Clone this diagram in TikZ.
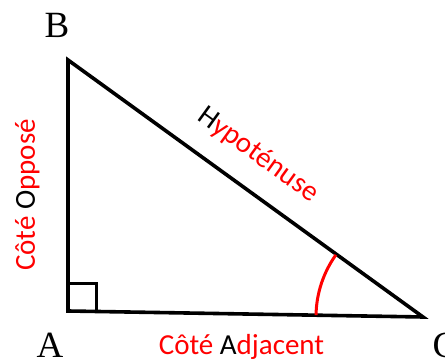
\documentclass[tikz,border=0pt]{standalone}
\usepackage{fontspec}
\setmainfont{Liberation Serif}
\newfontfamily\carl{Carlito}
\begin{document}
\begin{tikzpicture}[x=1pt,y=1pt,
  edge/.style={line width=3.6pt,line join=miter},
  vlabel/.style={font=\fontsize{37}{40}\selectfont,inner sep=0pt},
  side/.style={font=\carl\fontsize{29}{32}\selectfont,text=red,inner sep=0pt}]
\useasboundingbox (0,0) rectangle (445,361);
\coordinate (A) at (68,50);
\coordinate (B) at (68,301);
\coordinate (C) at (423,44);
\draw[edge] (B) -- (A) -- (C) -- cycle;
\draw[line width=3pt] (68,77) -| (96,50);
\draw[red,line width=3pt] (C) ++(179:107pt) arc[start angle=179,end angle=144.5,radius=107pt];
\node[vlabel] (lB) at (57,336) {B};
\node[vlabel] (lA) at (50,16) {A};
\node[vlabel] (lC) at (445,16) {C};
\node[side,anchor=base] (adj) at (241.5,6) {Côté \textcolor{black}{A}djacent};
\node[side,anchor=base,rotate=90] (opp) at (35,166) {Côté \textcolor{black}{O}pposé};
\node[side,rotate=-35.9] (hyp) at (258,206) {\textcolor{black}{H}ypoténuse};
\end{tikzpicture}
\end{document}
